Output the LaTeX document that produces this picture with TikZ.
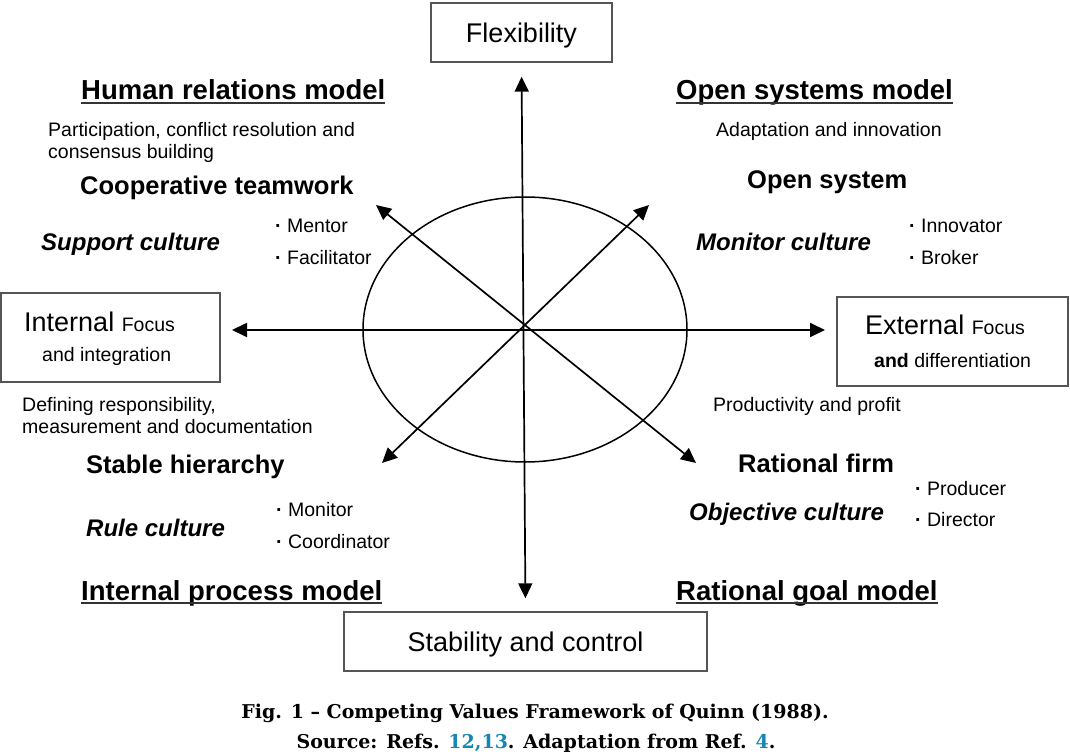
\documentclass[tikz,border=0pt]{standalone}
\usepackage{fontspec}
\setmainfont{Liberation Sans}
\newfontfamily\capfont{DejaVu Serif}
\usetikzlibrary{arrows.meta}
\definecolor{refblue}{RGB}{20,136,178}
\definecolor{boxgray}{RGB}{85,85,85}

\tikzset{
  axis/.style={line width=1.7pt, {Triangle[length=15pt,width=14pt]}-{Triangle[length=15pt,width=14pt]}},
  frame/.style={draw=boxgray, line width=1.4pt, inner sep=0pt, align=center, text height=22pt, text depth=2pt, font=\fontsize{27}{30}\selectfont},
  big/.style={anchor=base west, inner sep=0pt, font=\fontsize{27}{30}\selectfont},
  model/.style={anchor=base west, inner sep=0pt, font=\fontsize{27.5}{30}\selectfont\bfseries},
  uline/.style={line width=1.9pt, black!80},
  head/.style={anchor=base west, inner sep=0pt, font=\fontsize{25.5}{28}\selectfont\bfseries},
  cult/.style={anchor=base west, inner sep=0pt, font=\fontsize{24}{27}\selectfont\bfseries\itshape},
  txt/.style={anchor=base west, inner sep=0pt, font=\fontsize{19.5}{22}\selectfont},
  capt/.style={anchor=base, inner sep=0pt, font=\fontsize{19}{22}\selectfont\capfont\bfseries},
}
\newcommand{\smallfs}{\fontsize{19.5}{22}\selectfont}
\newcommand{\bul}{{\bfseries ·}\ }

\begin{document}
\begin{tikzpicture}[x=1pt, y=-1pt]
        \useasboundingbox (0,0) rectangle (1070,754);

        % Draw the ellipse
        \draw[line width=1.5pt] (525,329.5) ellipse (162 and 132.5);

        % Boxes at the ends of the axes
        \node[frame, minimum width=181pt, minimum height=59pt] (flex) at (521.5,32.5) {Flexibility};
        \node[frame, minimum width=363pt, minimum height=59pt] (stab) at (525.5,641.5) {Stability and control};
        \node[frame, minimum width=219pt, minimum height=89pt] (intl) at (110.5,337.5) {};
        \node[frame, minimum width=231pt, minimum height=89pt] (extl) at (952.5,341.5) {};

        % Texts in the side boxes
        \node[big] (intl1) at (24,331) {Internal {\smallfs Focus}};
        \node[txt] (intl2) at (42,361) {and integration};
        \node[big] (extl1) at (865,334) {External {\smallfs Focus}};
        \node[txt] (extl2) at (874,367) {\textbf{and} differentiation};

        % Arrow tips (for reference)
        \coordinate (W) at (232,330);
        \coordinate (E) at (825,330);
        \coordinate (NW) at (376,205);
        \coordinate (SE) at (696,463);
        \coordinate (NE) at (649,205);
        \coordinate (SW) at (382,463);

        % Draw the axes
        \draw[axis, shorten <=14pt, shorten >=13pt] (flex.south) -- (stab.north);
        \draw[axis] (W) -- (E);
        \draw[axis] (NW) -- (SE);
        \draw[axis] (SW) -- (NE);

        % Human relations model
        \node[model] (hrm) at (81,100) {Human relations model};
        \draw[uline] ([yshift=-3pt]hrm.base west) -- ([yshift=-3pt]hrm.base east);
        \node[txt] (part1) at (48,137) {Participation, conflict resolution and};
        \node[txt] (part2) at (48,159) {consensus building};
        \node[head] (coop) at (80,194) {Cooperative teamwork};
        \node[cult] (supp) at (41,250) {Support culture};
        \node[txt] (ment) at (275,232) {\bul Mentor};
        \node[txt] (faci) at (275,264) {\bul Facilitator};

        % Open systems model
        \node[model] (osm) at (676,100) {Open systems model};
        \draw[uline] ([yshift=-3pt]osm.base west) -- ([yshift=-3pt]osm.base east);
        \node[txt] (adap) at (716,137) {Adaptation and innovation};
        \node[head] (open) at (747,189) {Open system};
        \node[cult] (moni) at (696,250) {Monitor culture};
        \node[txt] (inno) at (909,232) {\bul Innovator};
        \node[txt] (brok) at (909,264) {\bul Broker};

        % Internal process model
        \node[txt] (defi1) at (22,411) {Defining responsibility,};
        \node[txt] (defi2) at (22,433) {measurement and documentation};
        \node[head] (stab2) at (86,473) {Stable hierarchy};
        \node[cult] (rule) at (86,536) {Rule culture};
        \node[txt] (mon) at (276,516) {\bul Monitor};
        \node[txt] (coor) at (276,548) {\bul Coordinator};
        \node[model] (ipm) at (81,600) {Internal process model};
        \draw[uline] ([yshift=-3pt]ipm.base west) -- ([yshift=-3pt]ipm.base east);

        % Rational goal model
        \node[txt] (prod) at (713,411) {Productivity and profit};
        \node[head] (rati) at (738,472) {Rational firm};
        \node[cult] (obje) at (689,520) {Objective culture};
        \node[txt] (pdcr) at (915,495) {\bul Producer};
        \node[txt] (dire) at (915,526) {\bul Director};
        \node[model] (rgm) at (676,600) {Rational goal model};
        \draw[uline] ([yshift=-3pt]rgm.base west) -- ([yshift=-3pt]rgm.base east);

        % Caption
        \node[capt] (cap1) at (535,718) {Fig. 1 – Competing Values Framework of Quinn (1988).};
        \node[capt] (cap2) at (536,748) {Source: Refs. \textcolor{refblue}{12,13}. Adaptation from Ref. \textcolor{refblue}{4}.};
    \end{tikzpicture}
\end{document}
